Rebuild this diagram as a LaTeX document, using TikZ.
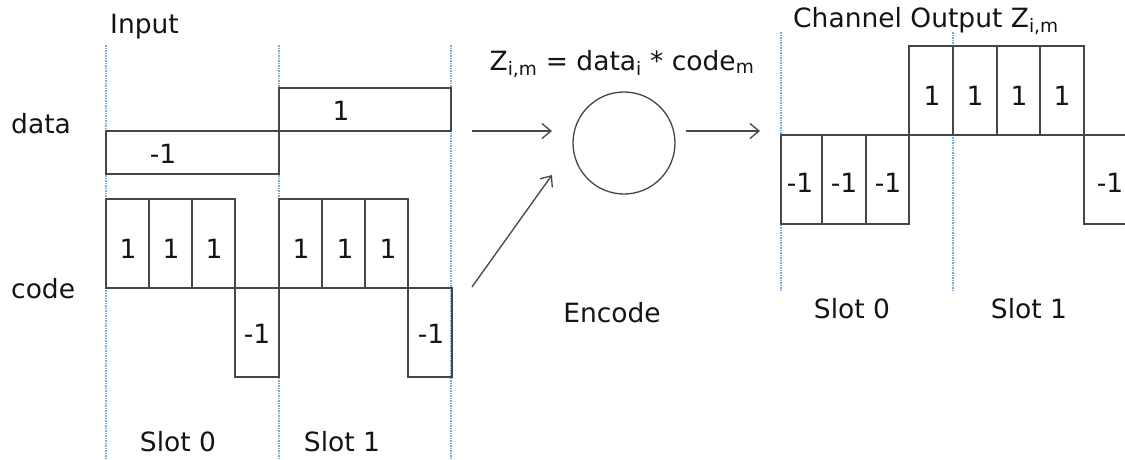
\documentclass[tikz,border=0pt]{standalone}
\usepackage{fontspec}
\setmainfont{DejaVu Sans}
\usetikzlibrary{arrows.meta}
\definecolor{wave}{RGB}{70,70,70}
\definecolor{slotline}{RGB}{120,172,222}
\definecolor{ink}{RGB}{20,20,20}
\tikzset{
  wavebox/.style={draw=wave, line width=1.3pt},
  slotsep/.style={draw=slotline, line width=1.3pt, dash pattern=on 1.5pt off 1pt},
  lbl/.style={anchor=base, inner sep=0pt, text=ink, font=\fontsize{26.5}{30}\selectfont},
  lblw/.style={lbl, anchor=base west},
  conn/.style={draw=wave, line width=1.3pt, -{Straight Barb[length=9pt,width=15pt,line width=1.3pt]}},
}
\begin{document}
\begin{tikzpicture}[x=1pt,y=-1pt]
\path[use as bounding box] (0,0) rectangle (1125,459);
\begin{scope}
\clip (0,0) rectangle (1125,459);
% slot separators (input)
\draw[slotsep] (106,45) -- (106,459);
\draw[slotsep] (279,45) -- (279,459);
\draw[slotsep] (451,45) -- (451,459);
% slot separators (output)
\draw[slotsep] (781,32) -- (781,290);
\draw[slotsep] (953,32) -- (953,290);

% titles
\node[lblw] (tin) at (110,33) {Input};
\node[lblw] (tdata) at (11,133) {data};
\node[lblw] (tcode) at (11,298) {code};

% data waveform
\draw[wavebox] (106,131) rectangle (279,174);
\draw[wavebox] (279,88) rectangle (451,131);
\node[lbl] (d0) at (163,163) {-1};
\node[lbl] (d1) at (341,120) {1};

% code waveform
\foreach \x in {106,279}{
  \draw[wavebox] (\x,199) rectangle ++(43,89);
  \draw[wavebox] (\x+43,199) rectangle ++(43,89);
  \draw[wavebox] (\x+86,199) rectangle ++(43,89);
  \draw[wavebox] (\x+129,288) rectangle ++(44,89);
}
\draw[wavebox] (106,288) -- (452,288);
\foreach \x/\n in {128/c1,171/c2,214/c3,301/c5,345/c6,388/c7}{
  \node[lbl] (\n) at (\x,258) {1};
}
\node[lbl] (c4) at (257,343) {-1};
\node[lbl] (c8) at (431,343) {-1};

\node[lbl] (s0) at (178,451) {Slot 0};
\node[lbl] (s1) at (342,451) {Slot 1};

% encoder
\node[lbl] (formula) at (622,70) {Z\textsubscript{i,m} = data\textsubscript{i} * code\textsubscript{m}};
\node[draw=wave, line width=1.3pt, circle, minimum size=102pt, inner sep=0pt] (enc) at (624,143) {};
\node[lbl] (tenc) at (612,322) {Encode};
\coordinate (a1s) at (472,131);
\coordinate (a1e) at (552,131);
\coordinate (a2s) at (472,287);
\coordinate (a2e) at (552,175);
\coordinate (a3s) at (686,131);
\coordinate (a3e) at (760,131);
\draw[conn] (a1s) -- (a1e);
\draw[conn] (a2s) -- (a2e);
\draw[conn] (a3s) -- (a3e);

% channel output
\node[lblw] (tout) at (793,27) {Channel Output Z\textsubscript{i,m}};
\foreach \a/\b in {781/822,822/866,866/909}{
  \draw[wavebox] (\a,135) rectangle (\b,224);
}
\foreach \a/\b in {909/953,953/997,997/1040,1040/1084}{
  \draw[wavebox] (\a,46) rectangle (\b,135);
}
\draw[wavebox] (1084,135) rectangle (1140,224);
\foreach \x/\n in {800/o1,844/o2,888/o3,1110/o8}{
  \node[lbl] (\n) at (\x,192) {-1};
}
\foreach \x/\n in {932/o4,975/o5,1019/o6,1062/o7}{
  \node[lbl] (\n) at (\x,105) {1};
}
\node[lbl] (os0) at (852,318) {Slot 0};
\node[lbl] (os1) at (1029,318) {Slot 1};
\end{scope}
\end{tikzpicture}
\end{document}
